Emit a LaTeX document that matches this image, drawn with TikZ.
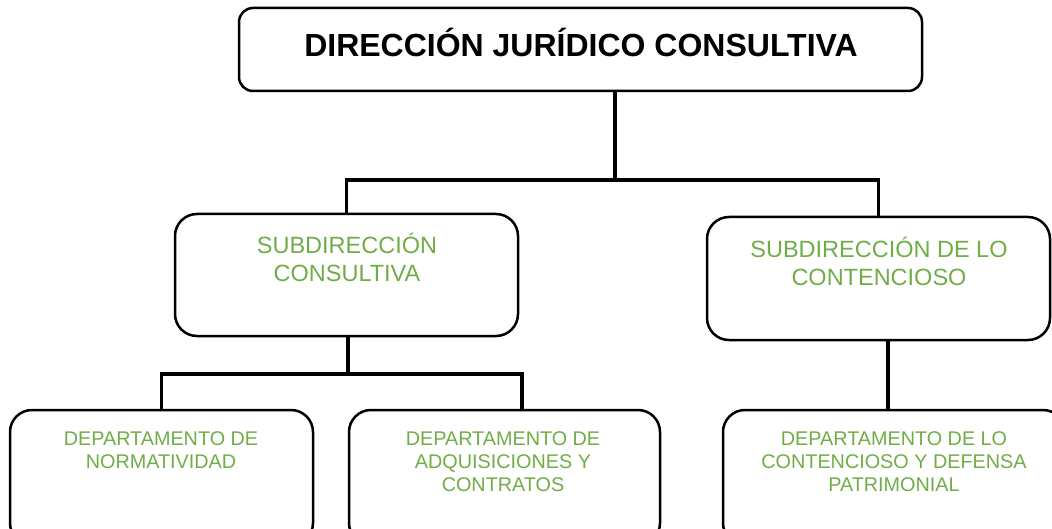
\documentclass[tikz,border=0pt]{standalone}
\usepackage{fontspec}
\setmainfont{Liberation Sans}
\definecolor{ogreen}{HTML}{70AD47}
\begin{document}
\begin{tikzpicture}[x=1pt,y=-1pt,
  box/.style={draw=black, line width=2.5pt, rounded corners=#1, inner sep=0pt, outer sep=0pt},
  box/.default=22pt,
  conn/.style={line width=3.8pt},
  gtext/.style={text=ogreen, align=center, inner sep=0pt},
  subfont/.style={font=\fontsize{23.5}{28}\selectfont},
  depfont/.style={font=\fontsize{19.8}{23}\selectfont},
]
\useasboundingbox (0,0) rectangle (1052,529);
\clip (0,0) rectangle (1052,529);
% boxes
\node[box=14pt, minimum width=683pt, minimum height=83pt] (top) at (580.5,49.5) {};
\node[box, minimum width=343pt, minimum height=122pt] (subL) at (346.5,275) {};
\node[box, minimum width=343pt, minimum height=123pt] (subR) at (878.5,278.5) {};
\node[box, minimum width=303pt, minimum height=135pt] (dep1) at (161.5,477.5) {};
\node[box, minimum width=311pt, minimum height=135pt] (dep2) at (504.5,477.5) {};
\node[box, minimum width=342pt, minimum height=135pt] (dep3) at (894,477.5) {};
% texts
\node[inner sep=0pt, font=\fontsize{32}{38}\selectfont\bfseries] (ttop) at (581,42) {DIRECCIÓN JURÍDICO CONSULTIVA};
\node[gtext, subfont] (tsubL) at (347,257) {SUBDIRECCIÓN\\CONSULTIVA};
\node[gtext, subfont] (tsubR) at (879,261) {SUBDIRECCIÓN DE LO\\CONTENCIOSO};
\node[gtext, depfont] (tdep1) at (161,450.5) {DEPARTAMENTO DE\\NORMATIVIDAD};
\node[gtext, depfont] (tdep2) at (503,462) {DEPARTAMENTO DE\\ADQUISICIONES Y\\CONTRATOS};
\node[gtext, depfont] (tdep3) at (894,462) {DEPARTAMENTO DE LO\\CONTENCIOSO Y DEFENSA\\PATRIMONIAL};
% connectors
\coordinate (j0) at (615,180);
\coordinate (j1) at (348,374);
\coordinate (d2x) at (522,0);
\coordinate (d3x) at (888,0);
\draw[conn] (top.south -| j0) -- (j0);
\draw[conn] (subL.north) |- (j0) -| (subR.north);
\draw[conn] (subL.south -| j1) -- (j1);
\draw[conn] (dep1.north) |- (j1) -| (dep2.north -| d2x);
\draw[conn] (subR.south -| d3x) -- (dep3.north -| d3x);
\end{tikzpicture}
\end{document}
